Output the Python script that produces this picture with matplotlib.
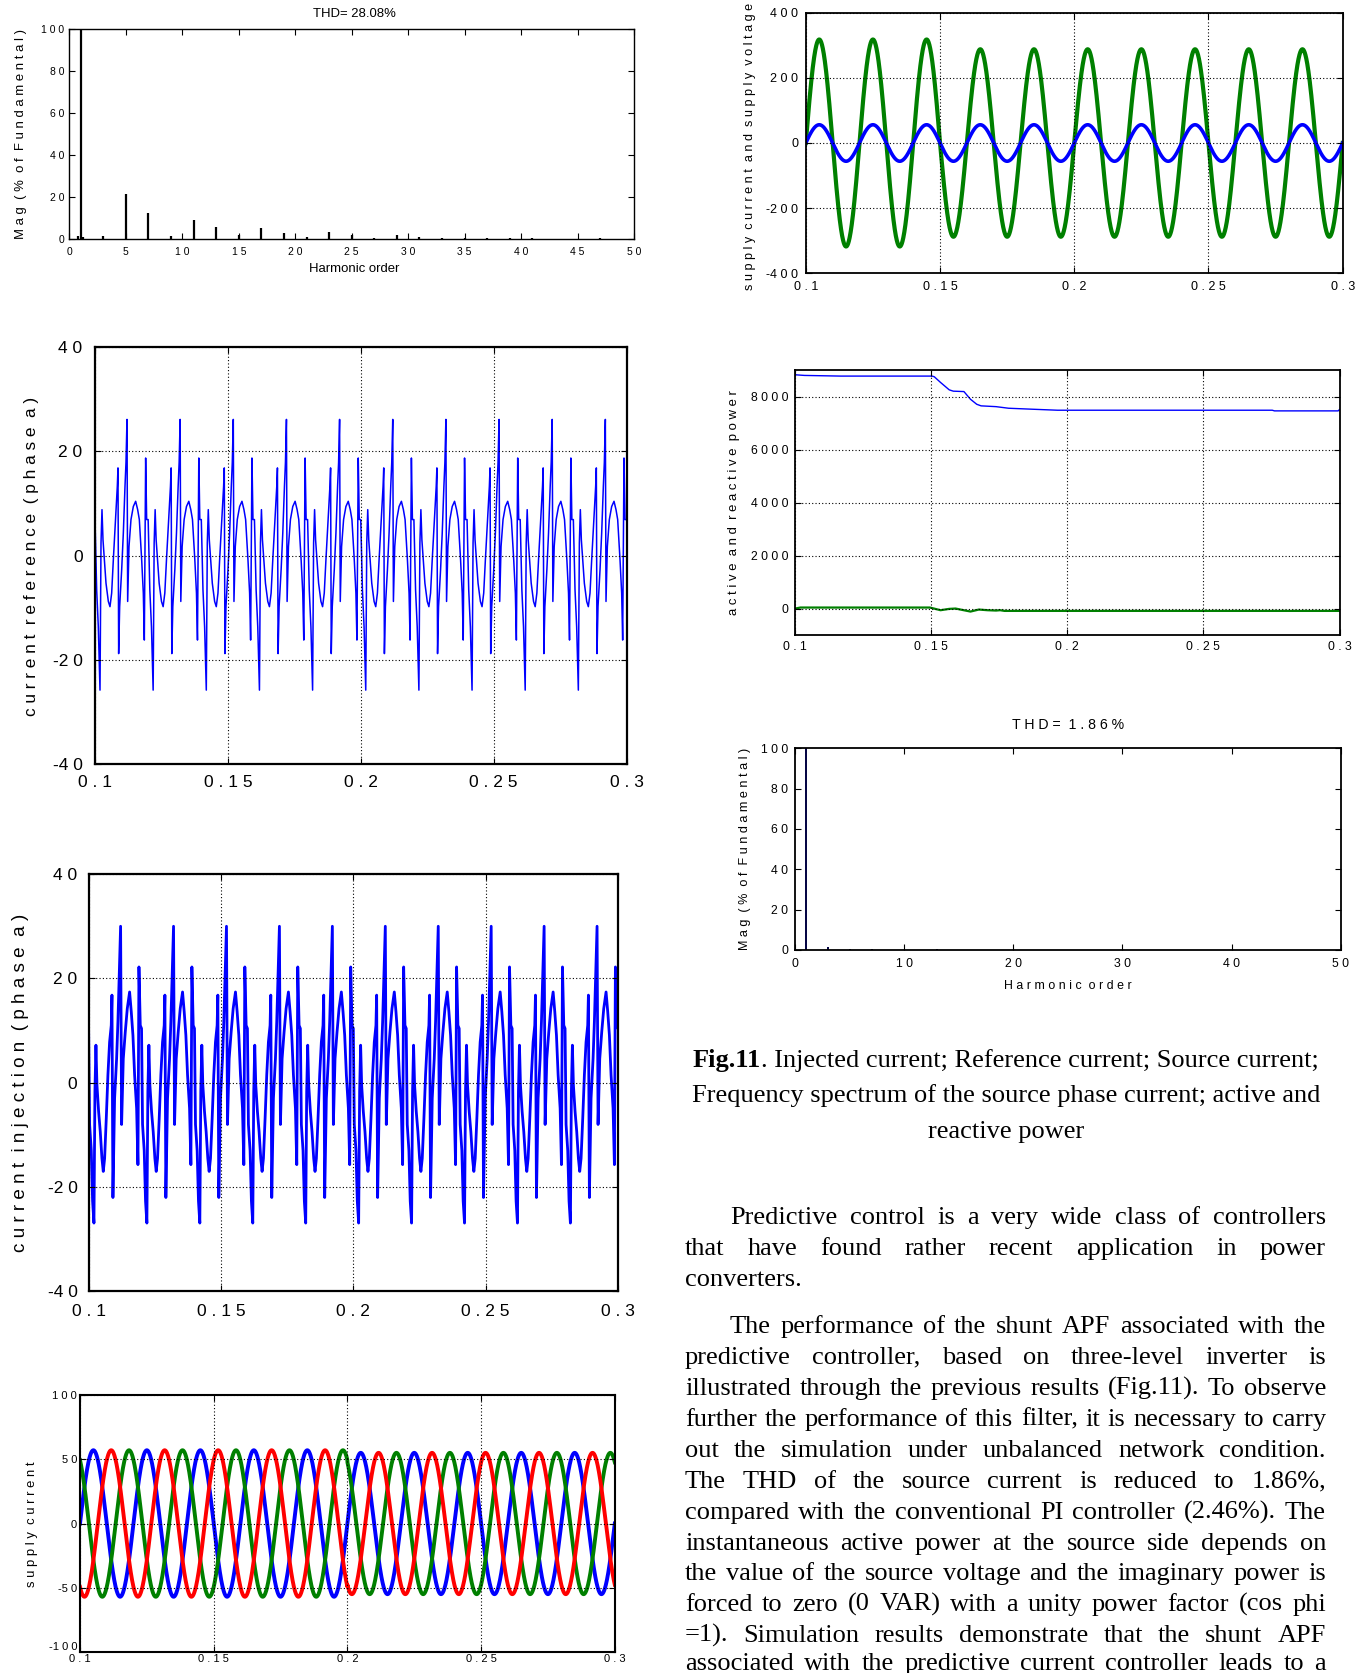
import numpy as np
import matplotlib
matplotlib.use("Agg")
import matplotlib.pyplot as plt

W, H = 1365, 1673
fig = plt.figure(figsize=(W / 100, H / 100), dpi=100)
renderer = fig.canvas.get_renderer()

SANS = ['Liberation Sans', 'DejaVu Sans']
SERIF = ['Liberation Serif', 'DejaVu Serif']
BLUE, GREEN, RED = '#0000ff', '#008000', '#ff0000'

# ---------------- data ----------------
# spectrum of load (source before filtering) current, THD = 28.08 %
thd1_orders = [0.8, 1, 1.2, 3, 5, 7, 9, 11, 13, 15, 17, 19, 21, 23, 25, 27, 29, 31, 33, 35, 37, 39, 41, 47]
thd1_mag = [1.5, 100, 1.1, 1.6, 21.3, 12.2, 1.6, 8.9, 5.7, 2.1, 5.2, 2.8, 1.1, 3.4, 2.1, 0.7, 1.8, 0.8,
            0.4, 0.5, 0.3, 0.4, 0.5, 0.3]
thd1_ticks = [0, 5, 10, 15, 20, 25, 30, 35, 40, 45, 50]
# spectrum of source current after filtering, THD = 1.86 %
thd2_orders = [1, 3, 5, 7, 13]
thd2_mag = [100, 1.3, 0.3, 0.4, 0.3]
thd2_ticks = [0, 10, 20, 30, 40, 50]
mag_ticks = [0, 20, 40, 60, 80, 100]

time_ticks = [0.1, 0.15, 0.2, 0.25, 0.3]

# current reference (phase a): one 20 ms period, times in ms from period start
iref_ms = [0.0, 0.63, 1.25, 1.88, 2.26, 2.63, 3.01, 3.51, 4.14, 5.02, 5.64, 6.27, 6.90, 7.77, 8.40,
           8.65, 8.90, 9.28, 10.03, 10.66, 11.29, 11.66, 12.04, 12.29, 12.79, 13.54, 14.42, 15.30,
           16.05, 16.68, 17.56, 18.18, 18.56, 19.06, 19.44]
iref_val = [6.9, -6.6, -13.7, -25.8, 2.4, 8.8, 3.0, -0.8, -5.3, -8.8, -9.8, -7.2, -0.8, 7.5, 13.3,
            16.8, -18.8, -9.8, -2.8, 4.3, 13.3, 17.8, 26.1, -8.8, 1.7, 6.9, 9.4, 10.4,
            8.8, 6.9, -0.8, -7.2, -16.2, 18.7, 6.9]
# current injection (phase a): one 20 ms period
iinj_ms = [0.0, 0.38, 1.01, 1.51, 2.02, 2.39, 2.77, 3.15, 3.78, 4.41, 5.04, 5.54, 6.05, 6.68, 7.30,
           7.93, 8.56, 8.82, 9.19, 9.82, 10.58, 11.08, 11.59, 12.09, 12.47, 13.10, 13.85, 14.61,
           15.49, 16.12, 16.75, 17.38, 18.14, 18.64, 19.02, 19.52]
iinj_val = [10.4, -8.0, -13.0, -22.7, -26.9, -1.7, 7.2, -0.4, -5.5, -9.4, -14.5, -17.0, -14.5, -6.8, 1.5,
            7.8, 11.0, 16.8, -22.0, -3.0, 4.6, 11.7, 21.2, 30.0, -8.0, 4.6, 9.7, 14.2,
            17.4, 13.6, 9.1, 1.5, -4.9, -15.7, 22.2, 11.0]
ref_ticks = [-40, -20, 0, 20, 40]

# supply current, three phases: peak value of each 20 ms cycle
ia_cycle_peak = [57, 57, 57, 57, 57, 55, 55, 55, 55, 55]
phase_shift_deg = {'a': 0, 'b': -120, 'c': 120}
supply_ticks = [-100, -50, 0, 50, 100]

# supply voltage and current (phase a): peak of each half cycle
vs_halfcycle_peak = [318, 318, 318, 318, 318, 288, 288, 288, 288, 288,
                     288, 288, 288, 288, 288, 288, 288, 288, 288, 288]
is_halfcycle_peak = [56] * 20
vi_ticks = [-400, -200, 0, 200, 400]

# active and reactive power
p_t = [0.1, 0.1034, 0.1167, 0.1503, 0.1511, 0.1534, 0.1566, 0.1581, 0.1620, 0.1644, 0.1667,
       0.1683, 0.1738, 0.1784, 0.1878, 0.1964, 0.2753, 0.2761, 0.2995, 0.3]
p_val = [8835, 8810, 8785, 8785, 8760, 8545, 8265, 8215, 8200, 7910, 7720,
         7660, 7630, 7570, 7530, 7495, 7495, 7470, 7470, 7520]
q_t = [0.1, 0.1019, 0.1495, 0.1534, 0.1566, 0.1589, 0.1613, 0.1644, 0.1675, 0.1706, 0.1738,
       0.1753, 0.1769, 0.3]
q_val = [0, 38, 38, -63, -13, 0, -50, -114, -38, -63, -76, -63, -89, -89]
power_ticks = [0, 2000, 4000, 6000, 8000]

# ---------------- helpers ----------------
def spaced(s):
    return '  '.join(' '.join(w) for w in s.split(' '))


def num_label(v):
    s = ('%g' % v)
    if s.startswith('-'):
        return '-' + ' '.join(s[1:])
    return ' '.join(s)


def add_axes(L, R, T, B):
    return fig.add_axes([L / W, 1 - B / H, (R - L) / W, (B - T) / H])


def style(ax, xt, yt, xlim, ylim, fs, xpad, ypad, lw=1.3, grid=True, ticklen=4):
    ax.set_xlim(*xlim)
    ax.set_ylim(*ylim)
    ax.set_xticks(xt)
    ax.set_yticks(yt)
    ax.set_xticklabels([num_label(v) for v in xt], family=SANS, fontsize=fs)
    ax.set_yticklabels([num_label(v) for v in yt], family=SANS, fontsize=fs)
    ax.tick_params(direction='in', top=True, right=True, length=ticklen, width=0.8, colors='black')
    ax.tick_params(axis='x', pad=xpad)
    ax.tick_params(axis='y', pad=ypad)
    for sp in ax.spines.values():
        sp.set_linewidth(lw)
    if grid:
        ax.grid(True, color='black', linestyle=(0, (1, 2)), linewidth=0.8)
    ax.set_axisbelow(False)


def fit_text(x, y, s, target, rotation=0, ha='center', va='center', family=SANS, **kw):
    base = 10.0
    t = fig.text(x / W, 1 - y / H, s, rotation=rotation, ha=ha, va=va, family=family,
                 fontsize=base, **kw)
    bb = t.get_window_extent(renderer)
    length = bb.height if rotation == 90 else bb.width
    t.set_fontsize(base * target / length)
    return t


def ylab(x, y, s, target, va='center'):
    fit_text(x, y, spaced(s), target, rotation=90, va=va)


def tile_period(ms, vals, t0=0.1, period=0.02, n=10):
    ms = np.asarray(ms, float) / 1000.0
    t = np.concatenate([t0 + k * period + ms for k in range(n)] + [[t0 + n * period]])
    v = np.concatenate([np.asarray(vals, float)] * n + [[vals[0]]])
    return t, v


def sine_by_segments(peaks, seg, phase_deg=0.0, f=50.0, t0=0.1, npts=6001):
    t = np.linspace(t0, t0 + len(peaks) * seg, npts)
    idx = np.minimum(((t - t0) / seg).astype(int), len(peaks) - 1)
    amp = np.asarray(peaks, float)[idx]
    return t, amp * np.sin(2 * np.pi * f * (t - t0) + np.deg2rad(phase_deg))


# ---------------- panel 1: spectrum THD 28.08 % ----------------
ax1 = add_axes(69.4, 634, 28.8, 239.1)
ax1.vlines(thd1_orders, 0, thd1_mag, color='black', linewidth=1.6)
style(ax1, thd1_ticks, mag_ticks, (0, 50), (0, 100), 7.5, 5.5, 3.5, lw=1.0, grid=False)
fit_text(354, 14, 'THD= 28.08%', 83)
fit_text(354, 269, 'Harmonic order', 91)
ylab(21, 134, 'Mag (% of Fundamental)', 210)

# ---------------- panel 2: current reference ----------------
ax2 = add_axes(95, 626.5, 346.9, 764.2)
t, v = tile_period(iref_ms, iref_val)
ax2.plot(t, v, color=BLUE, linewidth=1.1)
style(ax2, time_ticks, ref_ticks, (0.1, 0.3), (-40, 40), 12.5, 8, 9, lw=1.6)
ylab(32, 556, 'current reference (phase a)', 320)

# ---------------- panel 3: current injection ----------------
ax3 = add_axes(88.6, 618, 874.1, 1291.4)
t, v = tile_period(iinj_ms, iinj_val)
ax3.plot(t, v, color=BLUE, linewidth=2.0)
style(ax3, time_ticks, ref_ticks, (0.1, 0.3), (-40, 40), 12.5, 9, 8, lw=1.6)
ylab(21, 1083, 'current injection (phase a)', 341)

# ---------------- panel 4: supply current (3 phases) ----------------
ax4 = add_axes(80, 614.8, 1395, 1652)
for ph, col in (('a', BLUE), ('c', GREEN), ('b', RED)):
    t, v = sine_by_segments(ia_cycle_peak, 0.02, phase_shift_deg[ph])
    ax4.plot(t, v, color=col, linewidth=2.8)
style(ax4, time_ticks, supply_ticks, (0.1, 0.3), (-100, 100), 8, 1.2, 2, lw=1.5)
ax4.get_yticklabels()[0].set_verticalalignment('bottom')
ylab(32, 1524, 'supply current', 125)

# ---------------- panel 5: supply current and voltage ----------------
ax5 = add_axes(805.8, 1342.7, 12.8, 273.2)
t, v = sine_by_segments(vs_halfcycle_peak, 0.01)
ax5.plot(t, v, color=GREEN, linewidth=3.0)
t, v = sine_by_segments(is_halfcycle_peak, 0.01)
ax5.plot(t, v, color=BLUE, linewidth=2.6)
style(ax5, time_ticks, vi_ticks, (0.1, 0.3), (-400, 400), 9, 5.5, 5.5, lw=1.3)
ylab(750, 290, 'supply current and supply voltage', 288, va='bottom')

# ---------------- panel 6: active and reactive power ----------------
ax6 = add_axes(795.2, 1339.5, 370.4, 635)
ax6.plot(p_t, p_val, color=BLUE, linewidth=1.0)
ax6.plot(q_t, q_val, color=GREEN, linewidth=1.6)
style(ax6, time_ticks, power_ticks, (0.1, 0.3), (-1000, 9000), 8.8, 4.5, 5, lw=1.3)
ylab(734, 503, 'active and reactive power', 226)

# ---------------- panel 7: spectrum THD 1.86 % ----------------
ax7 = add_axes(795.2, 1340.6, 748.2, 950)
ax7.vlines(thd2_orders, 0, thd2_mag, color='#000040', linewidth=1.4)
style(ax7, thd2_ticks, mag_ticks, (0, 50), (0, 100), 8.8, 5.5, 5, lw=1.3, grid=False)
fit_text(1068, 725, spaced('THD= 1.86%'), 112)
fit_text(1068, 986, spaced('Harmonic order'), 128)
ylab(745, 849, 'Mag (% of Fundamental)', 203)

# ---------------- caption and body text ----------------
BODY_FS = 19
EM = BODY_FS * 100 / 72.0


def width_of(s, **kw):
    tt = fig.text(0, 0, s, **kw)
    w = tt.get_window_extent(renderer).width
    tt.remove()
    return w


def put(xpx, ycenter, s, **kw):
    fig.text(xpx / W, 1 - (ycenter + 0.3 * EM) / H, s, ha='left', va='baseline', **kw)


cap_center = 1006
cap_lines_y = [1059, 1094, 1130]
bold_part = 'Fig.11'
rest = '. Injected current; Reference current; Source current;'
wb = width_of(bold_part, family=SERIF, fontsize=BODY_FS, weight='bold')
wr = width_of(rest, family=SERIF, fontsize=BODY_FS)
x0 = cap_center - (wb + wr) / 2
put(x0, cap_lines_y[0], bold_part, family=SERIF, fontsize=BODY_FS, weight='bold')
put(x0 + wb, cap_lines_y[0], rest, family=SERIF, fontsize=BODY_FS)
for s, y in zip(['Frequency spectrum of the source phase current; active and', 'reactive power'],
                cap_lines_y[1:]):
    w = width_of(s, family=SERIF, fontsize=BODY_FS)
    put(cap_center - w / 2, y, s, family=SERIF, fontsize=BODY_FS)

LEFT, RIGHT, INDENT = 685, 1326, 45
paragraphs = [
    ["Predictive control is a very wide class of controllers",
     "that have found rather recent application in power",
     "converters."],
    ["The performance of the shunt APF associated with the",
     "predictive controller, based on three-level inverter is",
     "illustrated through the previous results (Fig.11). To observe",
     "further the performance of this filter, it is necessary to carry",
     "out the simulation under unbalanced network condition.",
     "The THD of the source current is reduced to 1.86%,",
     "compared with the conventional PI controller (2.46%). The",
     "instantaneous active power at the source side depends on",
     "the value of the source voltage and the imaginary power is",
     "forced to zero (0 VAR) with a unity power factor (cos phi",
     "=1). Simulation results demonstrate that the shunt APF",
     "associated with the predictive current controller leads to a"],
]
para_y = [[1216, 1247, 1278],
          [1325, 1356, 1387, 1418, 1449, 1480, 1511, 1542, 1572, 1603, 1634, 1662]]
for p_i, (lines, ys) in enumerate(zip(paragraphs, para_y)):
    for l_i, (line, y) in enumerate(zip(lines, ys)):
        left = LEFT + (INDENT if l_i == 0 else 0)
        words = line.split(' ')
        last_of_par = (l_i == len(lines) - 1) and p_i == 0
        if last_of_par or len(words) == 1:
            put(left, y, line, family=SERIF, fontsize=BODY_FS)
            continue
        ws = [width_of(wd, family=SERIF, fontsize=BODY_FS) for wd in words]
        gap = (RIGHT - left - sum(ws)) / (len(words) - 1)
        x = left
        for wd, wdw in zip(words, ws):
            put(x, y, wd, family=SERIF, fontsize=BODY_FS)
            x += wdw + gap

fig.savefig('out.png', dpi=100)
